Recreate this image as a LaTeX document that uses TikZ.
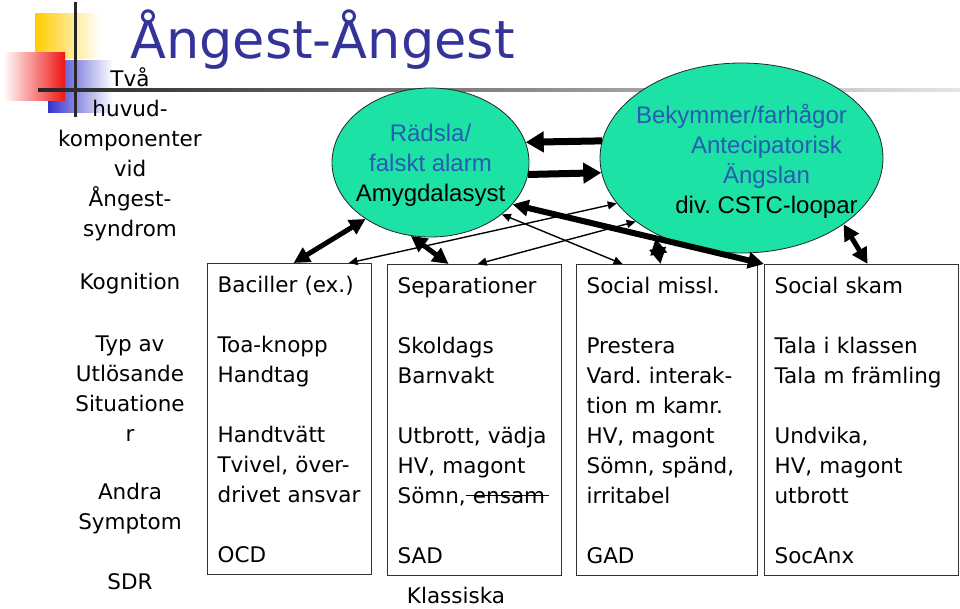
\documentclass[tikz,border=0pt]{standalone}
\usepackage{fontspec}
\setmainfont{DejaVu Sans}
\newfontfamily\arialfont{Liberation Sans}
\usetikzlibrary{arrows.meta,shapes.geometric}
\definecolor{titleblue}{RGB}{51,51,153}
\definecolor{ovalgreen}{RGB}{28,226,166}
\definecolor{ovalblue}{RGB}{38,92,178}
\definecolor{decoyellow}{RGB}{255,204,0}
\definecolor{decored}{RGB}{240,20,20}
\definecolor{decoblue}{RGB}{51,51,204}
\newcommand{\strk}[1]{\setbox0\hbox{#1}\rlap{\rule[0.32em]{\wd0}{1.2pt}}\box0}
\frenchspacing
\begin{document}
\begin{tikzpicture}[x=1pt,y=-1pt,
  boxtxt/.style={rectangle, draw=black!80, line width=1.2pt, anchor=north west, align=left, inner xsep=10pt, inner ysep=0pt, minimum height=311pt, font=\fontsize{21.5}{30}\selectfont},
  coltxt/.style={align=center, inner sep=0pt, font=\fontsize{21.5}{30}\selectfont},
  oval/.style={ellipse, draw=black!85, line width=0.8pt, fill=ovalgreen, inner sep=0pt},
  ovaltxt/.style={align=center, inner sep=0pt, font=\arialfont\fontsize{24}{30}\selectfont},
  thick2/.style={line width=5pt, {Triangle[length=16pt,width=16pt]}-{Triangle[length=16pt,width=16pt]}},
  thin2/.style={line width=1.4pt, {Triangle[length=9pt,width=8pt]}-{Triangle[length=9pt,width=8pt]}},
  big1/.style={line width=7pt, -{Triangle[length=18pt,width=20pt]}}]
\useasboundingbox (0,0) rectangle (960,608);
% corner decoration
\shade[left color=decoyellow, middle color=decoyellow, right color=white] (35,13) rectangle (100,58);
\shade[left color=decoblue, middle color=decoblue, right color=white] (48,60) rectangle (113,112);
\shade[left color=white, right color=decored] (3,52) rectangle (65,100);
\fill[black!85] (73.5,2) rectangle (76.5,117);
\shade[left color=black!85, right color=black!10] (38,88.5) rectangle (960,91.5);
\node[anchor=base west, inner sep=0pt, text=titleblue, font=\fontsize{52.5}{60}\selectfont] (title) at (130,58) {Ångest-Ångest};
% left column
\node[coltxt] (intro) at (130,154) {Två\\huvud-\\komponenter\\vid\\Ångest-\\syndrom};
\node[coltxt] (kogn) at (130,284) {Kognition};
\node[coltxt] (typ) at (130,389) {Typ av\\Utlösande\\Situatione\\r};
\node[coltxt] (andra) at (130,509) {Andra\\Symptom};
\node[coltxt] (sdr) at (130,582) {SDR};
% boxes
\node[boxtxt, text width=144pt] (bac) at (207,263) {Baciller (ex.)\\~\\Toa-knopp\\Handtag\\~\\Handtvätt\\Tvivel, över-\\drivet ansvar\\~\\OCD};
\node[boxtxt, text width=154pt] (sep) at (387,264) {Separationer\\~\\Skoldags\\Barnvakt\\~\\Utbrott, vädja\\HV, magont\\Sömn,\strk{\ ensam\,}\\~\\SAD};
\node[boxtxt, text width=161pt] (soc) at (576,264) {Social missl.\\~\\Prestera\\Vard. interak-\\tion m kamr.\\HV, magont\\Sömn, spänd,\\irritabel\\~\\GAD};
\node[boxtxt, text width=174pt] (skam) at (764,264) {Social skam\\~\\Tala i klassen\\Tala m främling\\~\\Undvika,\\HV, magont\\utbrott\\~\\SocAnx};
\node[coltxt] (klass) at (456,595) {Klassiska};
% ovals
\node[oval, minimum width=197pt, minimum height=149pt] (fear) at (430.5,162.5) {};
\node[ovaltxt] (feartxt) at ([yshift=-3pt]fear) {\textcolor{ovalblue}{Rädsla/}\\\textcolor{ovalblue}{falskt alarm}\\Amygdalasyst};
\node[oval, minimum width=283pt, minimum height=190pt] (worry) at (741.5,158) {};
\node[ovaltxt] (worrytxt) at ([yshift=-3pt]worry) {\textcolor{ovalblue}{Bekymmer/farhågor}\\\hspace*{50pt}\textcolor{ovalblue}{Antecipatorisk}\\\hspace*{50pt}\textcolor{ovalblue}{Ängslan}\\\hspace*{50pt}div. CSTC-loopar};
% arrows
\draw[big1] (worry.173.5) -- (fear.12.6);
\draw[big1] (fear.353.3) -- (worry.186.5);
\draw[thick2] (fear.221.5) -- ([xshift=4pt]bac.north);
\draw[thick2] (fear.255) -- ([xshift=-26pt]sep.north);
\draw[thin2] ([xshift=59pt]bac.north) -- (worry.200);
\draw[thin2] ([xshift=3pt]sep.north) -- (worry.211.5);
\draw[thin2] (fear.324) -- ([xshift=-44.5pt]soc.north);
\draw[thick2, line width=6pt] (fear.333.3) -- (skam.north west);
\draw[thick2, shorten <=5pt] (worry.221) -- ([xshift=-6.5pt]soc.north);
\draw[thick2] (worry.327.9) -- ([xshift=6pt]skam.north);
\end{tikzpicture}
\end{document}
